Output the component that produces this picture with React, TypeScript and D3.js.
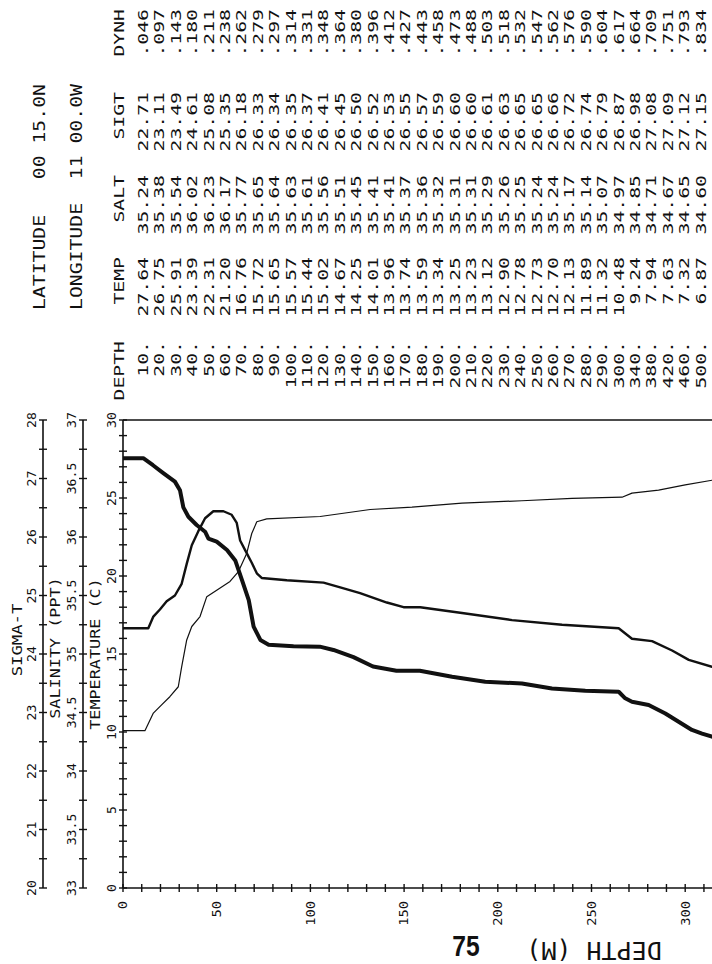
import React from 'react';
import * as d3 from 'd3';

// ---- Station header ----
const latitudeText = 'LATITUDE   00 15.0N';
const longitudeText = 'LONGITUDE  11 00.0W';
const tableHeaders = ['DEPTH', 'TEMP', 'SALT', 'SIGT', 'DYNH'];
const pageNumber = '75';

// ---- Table values ----
const depths = [10, 20, 30, 40, 50, 60, 70, 80, 90, 100, 110, 120, 130, 140, 150, 160, 170, 180, 190, 200,
  210, 220, 230, 240, 250, 260, 270, 280, 290, 300, 340, 380, 420, 460, 500];
const temps = [27.64, 26.75, 25.91, 23.39, 22.31, 21.20, 16.76, 15.72, 15.65, 15.57, 15.44, 15.02, 14.67, 14.25,
  14.01, 13.96, 13.74, 13.59, 13.34, 13.25, 13.23, 13.12, 12.90, 12.78, 12.73, 12.70, 12.13, 11.89, 11.32, 10.48,
  9.24, 7.94, 7.63, 7.32, 6.87];
const salts = [35.24, 35.38, 35.54, 36.02, 36.23, 36.17, 35.77, 35.65, 35.64, 35.63, 35.61, 35.56, 35.51, 35.45,
  35.41, 35.41, 35.37, 35.36, 35.32, 35.31, 35.31, 35.29, 35.26, 35.25, 35.24, 35.24, 35.17, 35.14, 35.07, 34.97,
  34.85, 34.71, 34.67, 34.65, 34.60];
const sigts = [22.71, 23.11, 23.49, 24.61, 25.08, 25.35, 26.18, 26.33, 26.34, 26.35, 26.37, 26.41, 26.45, 26.50,
  26.52, 26.53, 26.55, 26.57, 26.59, 26.60, 26.60, 26.61, 26.63, 26.65, 26.65, 26.66, 26.72, 26.74, 26.79, 26.87,
  26.98, 27.08, 27.09, 27.12, 27.15];
const dynhs = [0.046, 0.097, 0.143, 0.180, 0.211, 0.238, 0.262, 0.279, 0.297, 0.314, 0.331, 0.348, 0.364, 0.380,
  0.396, 0.412, 0.427, 0.443, 0.458, 0.473, 0.488, 0.503, 0.518, 0.532, 0.547, 0.562, 0.576, 0.590, 0.604, 0.617,
  0.664, 0.709, 0.751, 0.793, 0.834];

// ---- Plotted profiles ----
const tempCurveDepth = [0, 10.8, 16, 21.5, 27.7, 30.4, 32.2, 34.9, 39.3, 43.8, 45.6, 50, 55.5, 59.9, 63.5, 67.1,
  69.7, 73.3, 77.7, 91, 105, 112.3, 123, 133.4, 145.9, 158.4, 175.6, 193.3, 212.9, 228.9, 246.7, 264.5, 268,
  271.6, 280.5, 289.4, 296.5, 303.6, 309, 314.3, 340, 380, 420, 460, 500];
const tempCurveValue = [27.55, 27.55, 27.1, 26.6, 26.05, 25.5, 24.4, 23.8, 23.27, 22.84, 22.4, 22.2, 21.67, 21.0,
  19.74, 18.46, 16.75, 15.9, 15.6, 15.5, 15.47, 15.26, 14.8, 14.2, 13.93, 13.93, 13.54, 13.22, 13.11, 12.79, 12.64,
  12.58, 12.16, 11.94, 11.73, 11.19, 10.66, 10.13, 9.9, 9.7, 9.24, 7.94, 7.63, 7.32, 6.87];

const saltCurveDepth = [0, 13.5, 16.2, 19.7, 23.3, 27.7, 31.3, 34, 36.7, 40.2, 43.8, 48.2, 53.6, 58, 60.7, 62.5,
  65.1, 68.7, 71.4, 74, 87.4, 107, 115.9, 126.5, 140.8, 149.7, 158.6, 180.9, 207.6, 234.3, 264.5, 271.6, 282.3,
  293, 301.9, 314.3, 340, 380, 420, 460, 500];
const saltCurveValue = [35.22, 35.22, 35.32, 35.38, 35.45, 35.50, 35.60, 35.77, 35.93, 36.05, 36.16, 36.22, 36.22,
  36.19, 36.12, 35.97, 35.89, 35.78, 35.69, 35.65, 35.63, 35.61, 35.57, 35.52, 35.44, 35.40, 35.40, 35.35, 35.29,
  35.25, 35.22, 35.13, 35.11, 35.03, 34.95, 34.89, 34.85, 34.71, 34.67, 34.65, 34.60];

const sigtCurveDepth = [0, 11.7, 16.2, 20.6, 25, 29.5, 31.3, 34, 36.7, 41.1, 44.7, 50, 57.1, 61.6, 66, 68.7, 71.4,
  76.7, 105.2, 131.9, 154.2, 180.9, 212.9, 239.6, 266.3, 271.6, 285.8, 300, 314.3, 340, 380, 420, 460, 500];
const sigtCurveValue = [22.69, 22.69, 22.99, 23.13, 23.27, 23.44, 23.78, 24.24, 24.47, 24.64, 24.98, 25.09, 25.24,
  25.41, 25.72, 26.06, 26.26, 26.31, 26.35, 26.47, 26.51, 26.58, 26.62, 26.66, 26.68, 26.75, 26.80, 26.89, 26.97,
  26.98, 27.08, 27.09, 27.12, 27.15];

// ---- Axis ticks ----
const depthTicks = d3.range(0, 321, 10);
const depthLabels = [0, 50, 100, 150, 200, 250, 300];
const tempTicks = d3.range(0, 31, 1);
const tempLabels = [0, 5, 10, 15, 20, 25, 30];
const salTicks = d3.range(0, 17).map((i) => 33 + i * 0.25);
const salLabels = [33, 33.5, 34, 34.5, 35, 35.5, 36, 36.5, 37];
const sigTicks = d3.range(0, 17).map((i) => 20 + i * 0.5);
const sigLabels = [20, 21, 22, 23, 24, 25, 26, 27, 28];
const axisTitles = ['SIGMA-T', 'SALINITY (PPT)', 'TEMPERATURE (C)'];
const depthTitle = 'DEPTH (M)';

const MONO = '"DejaVu Sans Mono", monospace';
const INK = '#111';

type VProps = {
  x: number; y: number; text: string; anchor?: string; size?: number; sx?: number; rot?: number;
};
function VText({ x, y, text, anchor = 'middle', size = 14, sx = 1, rot = -90 }: VProps) {
  return (
    <text
      transform={`translate(${x},${y}) rotate(${rot}) scale(${sx},1)`}
      textAnchor={anchor}
      dominantBaseline="central"
      fontSize={size}
      fontFamily={MONO}
      fill={INK}
      style={{ whiteSpace: 'pre' }}
      xmlSpace="preserve"
    >
      {text}
    </text>
  );
}

export default function App() {
  const plotLeft = 123;
  const plotTop = 420;
  const plotBottom = 888;
  const x = d3.scaleLinear().domain([0, 500]).range([plotLeft, plotLeft + 500 * 1.874]);
  const yT = d3.scaleLinear().domain([0, 30]).range([plotBottom, plotTop]);
  const yS = d3.scaleLinear().domain([33, 37]).range([plotBottom, plotTop]);
  const yG = d3.scaleLinear().domain([20, 28]).range([plotBottom, plotTop]);

  const mk = (ds: number[], vs: number[], ys: d3.ScaleLinear<number, number>) =>
    d3.line<number>().x((_, i) => x(ds[i])).y((v) => ys(v)).curve(d3.curveLinear)(vs) || '';

  // table geometry
  const rowX0 = 143;
  const rowPitch = 16.4;
  const headerX = 119;
  const colEnd = [341, 257, 175, 92, 9];
  const charAdv = 11.9;
  const tSize = 14;
  const tSx = charAdv / (0.602 * tSize);

  const fmt2 = (v: number) => v.toFixed(2);
  const fmtD = (v: number) => `${v}.`;
  const fmtDyn = (v: number) => v.toFixed(3).replace(/^0/, '');

  const columns: string[][] = [
    depths.map(fmtD),
    temps.map(fmt2),
    salts.map(fmt2),
    sigts.map(fmt2),
    dynhs.map(fmtDyn),
  ];

  const sigAxisX = 43;
  const salAxisX = 83;
  const tempAxisX = plotLeft;

  return (
    <svg
      width={712}
      height={964}
      style={{ position: 'absolute', left: 0, top: 0, background: '#fff' }}
    >
      <rect x={0} y={0} width={712} height={964} fill="#fff" />
      <defs>
        <clipPath id="page">
          <rect x={0} y={0} width={712} height={964} />
        </clipPath>
      </defs>

      {/* Station header */}
      <VText x={40} y={310} text={latitudeText} anchor="start" size={15} sx={charAdv / (0.602 * 15)} />
      <VText x={77} y={310} text={longitudeText} anchor="start" size={15} sx={charAdv / (0.602 * 15)} />

      {/* Table header */}
      {tableHeaders.map((h, c) => (
        <VText key={h} x={headerX} y={colEnd[c]} text={h} anchor="end" size={tSize} sx={tSx} />
      ))}
      {/* Table rows */}
      {columns.map((col, c) =>
        col.map((s, i) => (
          <VText key={`${c}-${i}`} x={rowX0 + i * rowPitch} y={colEnd[c]} text={s} anchor="end" size={tSize} sx={tSx} />
        ))
      )}

      {/* Plot frame */}
      <line x1={plotLeft} x2={712} y1={plotTop} y2={plotTop} stroke={INK} strokeWidth={1.6} />
      <line x1={plotLeft} x2={712} y1={plotBottom} y2={plotBottom} stroke={INK} strokeWidth={1.6} />

      {/* Temperature axis */}
      <line x1={tempAxisX} x2={tempAxisX} y1={plotBottom} y2={plotTop} stroke={INK} strokeWidth={1.6} />
      {tempTicks.map((t) => (
        <line key={`tt${t}`} x1={tempAxisX - 4} x2={tempAxisX + 4} y1={yT(t)} y2={yT(t)} stroke={INK} strokeWidth={1.4} />
      ))}
      {tempLabels.map((t) => (
        <VText key={`tl${t}`} x={112} y={yT(t)} text={`${t}`} size={12.5} sx={1.05} />
      ))}

      {/* Salinity axis */}
      <line x1={salAxisX} x2={salAxisX} y1={plotBottom} y2={plotTop} stroke={INK} strokeWidth={1.6} />
      {salTicks.map((t) => (
        <line key={`st${t}`} x1={salAxisX - 4} x2={salAxisX + 4} y1={yS(t)} y2={yS(t)} stroke={INK} strokeWidth={1.4} />
      ))}
      {salLabels.map((t) => (
        <VText key={`sl${t}`} x={72} y={yS(t)} text={`${t}`} size={12.5} sx={1.05} />
      ))}

      {/* Sigma-t axis */}
      <line x1={sigAxisX} x2={sigAxisX} y1={plotBottom} y2={plotTop} stroke={INK} strokeWidth={1.6} />
      {sigTicks.map((t) => (
        <line key={`gt${t}`} x1={sigAxisX - 4} x2={sigAxisX + 4} y1={yG(t)} y2={yG(t)} stroke={INK} strokeWidth={1.4} />
      ))}
      {sigLabels.map((t) => (
        <VText key={`gl${t}`} x={32} y={yG(t)} text={`${t}`} size={12.5} sx={1.05} />
      ))}

      {/* Axis titles */}
      <VText x={17} y={640} text={axisTitles[0]} size={14} sx={1.23} />
      <VText x={55} y={648} text={axisTitles[1]} size={14} sx={1.2} />
      <VText x={95} y={654} text={axisTitles[2]} size={14} sx={1.2} />

      {/* Depth axis */}
      {depthTicks.map((d) => (
        <line key={`dt${d}`} x1={x(d)} x2={x(d)} y1={plotBottom - 4} y2={plotBottom + 4} stroke={INK} strokeWidth={1.4} />
      ))}
      {depthLabels.map((d) => (
        <VText key={`dl${d}`} x={x(d)} y={901} text={`${d}`} anchor="end" size={13} sx={1.06} />
      ))}
      <VText x={594} y={950} text={depthTitle} size={25} rot={180} />

      {/* Profiles */}
      <g clipPath="url(#page)">
        <path d={mk(sigtCurveDepth, sigtCurveValue, yG)} fill="none" stroke={INK} strokeWidth={1.2} strokeLinejoin="round" />
        <path d={mk(saltCurveDepth, saltCurveValue, yS)} fill="none" stroke={INK} strokeWidth={2.4} strokeLinejoin="round" />
        <path d={mk(tempCurveDepth, tempCurveValue, yT)} fill="none" stroke={INK} strokeWidth={4} strokeLinejoin="round" />
      </g>

      {/* Page number */}
      <text
        transform="translate(466,956) scale(0.85,1)"
        textAnchor="middle"
        fontSize={29}
        fontWeight="bold"
        fontFamily='"Liberation Sans", Arial, sans-serif'
        fill={INK}
      >
        {pageNumber}
      </text>
    </svg>
  );
}
